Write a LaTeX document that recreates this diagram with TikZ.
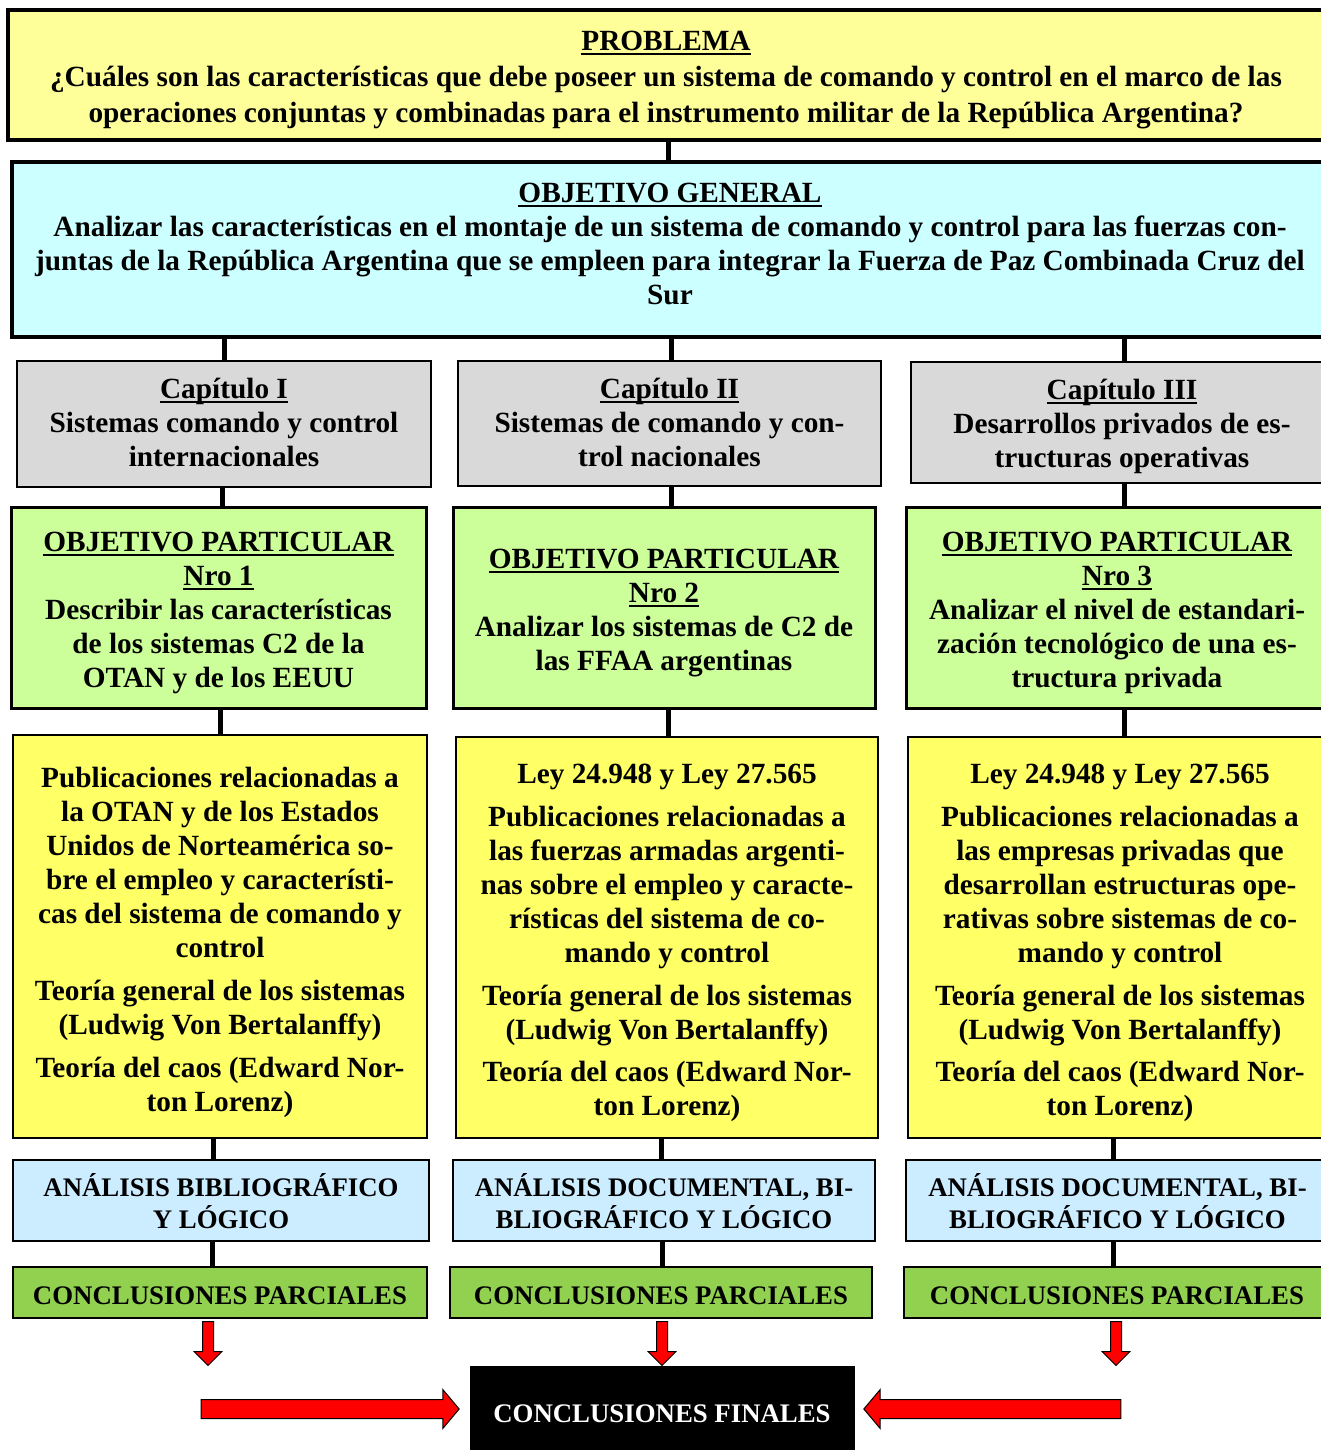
\documentclass[tikz,border=0pt]{standalone}
\usepackage{fontspec}
\setmainfont{Liberation Serif}
\usetikzlibrary{positioning,shapes.arrows}
\definecolor{problemColor}{RGB}{255,255,153}
\definecolor{generalColor}{RGB}{204,255,255}
\definecolor{chapterColor}{RGB}{217,217,217}
\definecolor{particularColor}{RGB}{204,255,153}
\definecolor{sourceColor}{RGB}{255,255,102}
\definecolor{analysisColor}{RGB}{204,236,255}
\definecolor{partialColor}{RGB}{146,208,80}
\newcommand{\mainFont}{\fontsize{29.3}{34}\selectfont\bfseries}
\newcommand{\capsFont}{\fontsize{26.8}{31}\selectfont\bfseries}
\newcommand{\titleLine}[1]{\setbox0\hbox{#1}\rlap{\rule[-4.5pt]{\wd0}{2pt}}\box0}
\tikzstyle{baseBox} = [draw=black, inner sep=0pt, font=\mainFont]
\tikzstyle{problemBox} = [baseBox, fill=problemColor, line width=4]
\tikzstyle{generalBox} = [baseBox, fill=generalColor, line width=4]
\tikzstyle{chapterBox} = [baseBox, fill=chapterColor, line width=2]
\tikzstyle{particularBox} = [baseBox, fill=particularColor, line width=3]
\tikzstyle{sourceBox} = [baseBox, fill=sourceColor, line width=2]
\tikzstyle{analysisBox} = [baseBox, fill=analysisColor, line width=2, font=\capsFont]
\tikzstyle{partialBox} = [baseBox, fill=partialColor, line width=2, font=\capsFont]
\tikzstyle{finalBox} = [baseBox, fill=black, text=white, font=\capsFont]
\tikzstyle{link} = [line width=5]
\tikzstyle{redArrow} = [single arrow, fill=red, draw=black, line width=1, inner xsep=0pt, minimum width=0pt, single arrow head indent=0pt]
% box from (x1,y1) to (x2,y2), text lowered by #7
\newcommand{\diagramBox}[8]{\node [#2, minimum width = #5 - #3, minimum height = #6 - #4] (#1) at ({(#3 + #5) / 2}, {(#4 + #6) / 2})
  {\raisebox{-#7pt}[\height][\depth]{\begin{tabular}{@{}c@{}}#8\end{tabular}}};}
\newcommand{\connector}[3]{\draw [link] (#1.south -| #3,0) -- (#2.north -| #3,0);}

\begin{document}
\begin{tikzpicture}[x = 1pt, y = -1pt]
  \useasboundingbox (0,0) rectangle (1320,1450);
  % top boxes
  \diagramBox{problema}{problemBox}{8}{10}{1324}{140}{5}{\titleLine{PROBLEMA}\\[2pt]
    ¿Cuáles son las características que debe poseer un sistema de comando y control en el marco de las\\[2pt]
    operaciones conjuntas y combinadas para el instrumento militar de la República Argentina?}
  \diagramBox{general}{generalBox}{12}{162}{1328}{337}{-3}{\titleLine{OBJETIVO GENERAL}\\
    Analizar las características en el montaje de un sistema de comando y control para las fuerzas con-\\
    juntas de la República Argentina que se empleen para integrar la Fuerza de Paz Combinada Cruz del\\
    Sur}
  \connector{problema}{general}{668}

  % chapters
  \diagramBox{cap1}{chapterBox}{17}{361}{431}{487}{2}{\titleLine{Capítulo I}\\ Sistemas comando y control\\ internacionales}
  \diagramBox{cap2}{chapterBox}{458}{361}{881}{486}{2}{\titleLine{Capítulo II}\\ Sistemas de comando y con-\\ trol nacionales}
  \diagramBox{cap3}{chapterBox}{911}{362}{1333}{483}{4}{\titleLine{Capítulo III}\\ Desarrollos privados de es-\\ tructuras operativas}

  % particular objectives
  \diagramBox{op1}{particularBox}{11}{507}{426}{708}{5}{\titleLine{OBJETIVO PARTICULAR}\\ \titleLine{Nro 1}\\
    Describir las características\\ de los sistemas C2 de la\\ OTAN y de los EEUU}
  \diagramBox{op2}{particularBox}{453}{507}{875}{708}{5}{\titleLine{OBJETIVO PARTICULAR}\\ \titleLine{Nro 2}\\
    Analizar los sistemas de C2 de\\ las FFAA argentinas}
  \diagramBox{op3}{particularBox}{906}{507}{1328}{708}{5}{\titleLine{OBJETIVO PARTICULAR}\\ \titleLine{Nro 3}\\
    Analizar el nivel de estandari-\\ zación tecnológico de una es-\\ tructura privada}

  % sources
  \diagramBox{src1}{sourceBox}{13}{735}{427}{1138}{6}{Publicaciones relacionadas a\\ la OTAN y de los Estados\\
    Unidos de Norteamérica so-\\ bre el empleo y característi-\\ cas del sistema de comando y\\ control\\[9pt]
    Teoría general de los sistemas\\ (Ludwig Von Bertalanffy)\\[9pt] Teoría del caos (Edward Nor-\\ ton Lorenz)}
  \diagramBox{src2}{sourceBox}{456}{737}{878}{1138}{5}{Ley 24.948 y Ley 27.565\\[9pt] Publicaciones relacionadas a\\
    las fuerzas armadas argenti-\\ nas sobre el empleo y caracte-\\ rísticas del sistema de co-\\ mando y control\\[9pt]
    Teoría general de los sistemas\\ (Ludwig Von Bertalanffy)\\[8pt] Teoría del caos (Edward Nor-\\ ton Lorenz)}
  \diagramBox{src3}{sourceBox}{908}{737}{1332}{1138}{5}{Ley 24.948 y Ley 27.565\\[9pt] Publicaciones relacionadas a\\
    las empresas privadas que\\ desarrollan estructuras ope-\\ rativas sobre sistemas de co-\\ mando y control\\[9pt]
    Teoría general de los sistemas\\ (Ludwig Von Bertalanffy)\\[8pt] Teoría del caos (Edward Nor-\\ ton Lorenz)}

  % analysis and partial conclusions
  \diagramBox{an1}{analysisBox}{13}{1160}{429}{1241}{5}{ANÁLISIS BIBLIOGRÁFICO\\ Y LÓGICO}
  \diagramBox{an2}{analysisBox}{453}{1160}{875}{1241}{5}{ANÁLISIS DOCUMENTAL, BI-\\ BLIOGRÁFICO Y LÓGICO}
  \diagramBox{an3}{analysisBox}{906}{1160}{1329}{1241}{5}{ANÁLISIS DOCUMENTAL, BI-\\ BLIOGRÁFICO Y LÓGICO}
  \diagramBox{cp1}{partialBox}{13}{1267}{427}{1318}{6}{CONCLUSIONES PARCIALES}
  \diagramBox{cp2}{partialBox}{450}{1267}{872}{1318}{6}{CONCLUSIONES PARCIALES}
  \diagramBox{cp3}{partialBox}{904}{1267}{1330}{1318}{6}{CONCLUSIONES PARCIALES}
  \diagramBox{final}{finalBox}{470}{1366}{854}{1452}{7}{CONCLUSIONES FINALES}

  \foreach \col/\xa/\xb/\xc/\xd/\xe in {1/224/222/220/213/212, 2/671/671/668/661/662, 3/1124/1124/1124/1113/1113} {
    \connector{general}{cap\col}{\xa}
    \connector{cap\col}{op\col}{\xb}
    \connector{op\col}{src\col}{\xc}
    \connector{src\col}{an\col}{\xd}
    \connector{an\col}{cp\col}{\xe}
  }

  % red arrows
  \foreach \col/\x in {1/208, 2/662, 3/1116} {
    \node [redArrow, minimum height=44, inner ysep=5pt, single arrow head extend=8.5pt, rotate=-90, anchor=tail]
      (down\col) at ([yshift=-2pt]cp\col.south -| \x,0) {};
  }
  \node [redArrow, minimum height=258, inner ysep=9pt, single arrow head extend=10pt, single arrow tip angle=100, anchor=tip]
    (leftArrow) at ([xshift=-10pt]final.west) {};
  \node [redArrow, minimum height=257, inner ysep=9pt, single arrow head extend=10pt, single arrow tip angle=100, rotate=180, anchor=tip]
    (rightArrow) at ([xshift=9pt]final.east) {};
\end{tikzpicture}
\end{document}
